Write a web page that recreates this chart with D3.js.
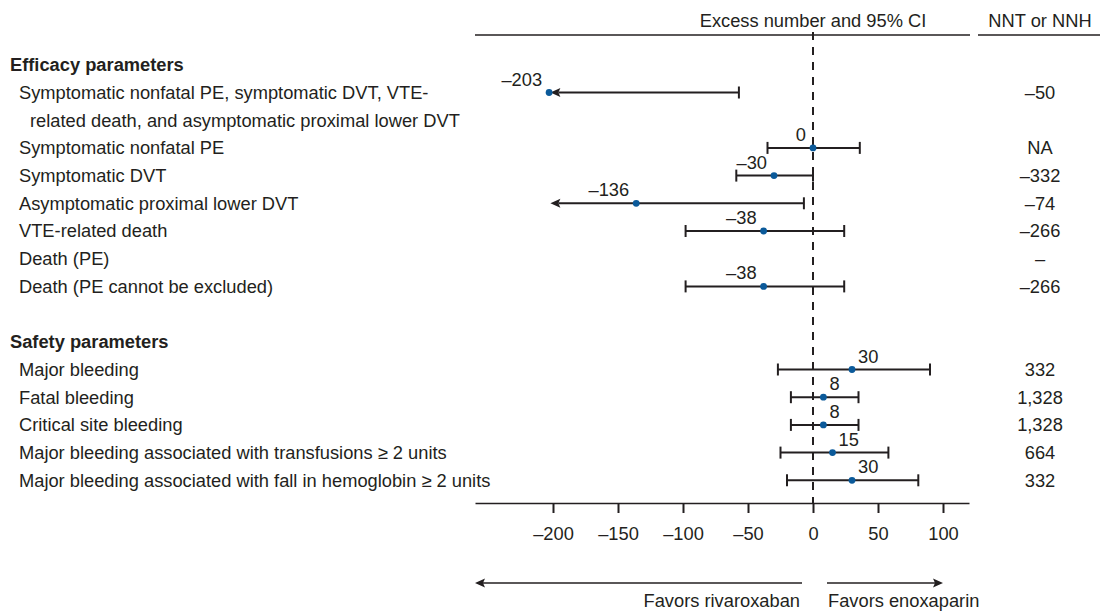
<!DOCTYPE html>
<html>
<head>
<meta charset="utf-8">
<script src="https://cdn.jsdelivr.net/npm/d3@7"></script>
<style>
  html, body { margin: 0; padding: 0; background: #fff; }
  svg { display: block; font-family: "Liberation Sans", Arial, Helvetica, sans-serif; }
  text { fill: #231f20; }
</style>
</head>
<body>
<svg id="chart" width="1100" height="611"></svg>
<script>
// ---------------- data ----------------
const groups = ["Efficacy parameters", "Safety parameters"];
const outcomes = [
  "Symptomatic nonfatal PE, symptomatic DVT, VTE-\nrelated death, and asymptomatic proximal lower DVT",
  "Symptomatic nonfatal PE",
  "Symptomatic DVT",
  "Asymptomatic proximal lower DVT",
  "VTE-related death",
  "Death (PE)",
  "Death (PE cannot be excluded)",
  "Major bleeding",
  "Fatal bleeding",
  "Critical site bleeding",
  "Major bleeding associated with transfusions \u2265 2 units",
  "Major bleeding associated with fall in hemoglobin \u2265 2 units"
];
const outcomeGroup = [0, 0, 0, 0, 0, 0, 0, 1, 1, 1, 1, 1];
const estimates = [-203, 0, -30, -136, -38, null, -38, 30, 8, 8, 15, 30];
// null lower bound = interval extends beyond the left edge of the scale (drawn as an arrow)
const lowerCI = [null, -35, -59, null, -98, null, -98, -27, -17, -17, -25, -20];
const upperCI = [-57, 36, 0, -7, 24, null, 24, 90, 35, 35, 58, 81];
const nnt = ["\u201350", "NA", "\u2013332", "\u201374", "\u2013266", "\u2013", "\u2013266", "332", "1,328", "1,328", "664", "332"];
const xTicks = [-200, -150, -100, -50, 0, 50, 100];
const xDomain = [-260, 120];
const arrowLimit = -202;

// ---------------- layout ----------------
const svg = d3.select("#chart");
const ink = "#231f20";
const dotColor = "#0b5a9a";
const fs = 18.3;

const x = d3.scaleLinear().domain(xDomain).range([475, 969]);

const slotY0 = 64.8, slotH = 27.7;
const yOf = k => slotY0 + k * slotH;

// build rows (headers + outcomes) with slot indices
const rows = [];
let slot = 0;
groups.forEach((g, gi) => {
  if (gi > 0) slot += 1; // blank line between groups
  rows.push({ type: "header", label: g, slot: slot });
  slot += 1;
  outcomes.forEach((o, i) => {
    if (outcomeGroup[i] !== gi) return;
    const lines = o.split("\n");
    rows.push({ type: "item", lines, slot, i });
    slot += lines.length;
  });
});

const dash = x(0);

// header
svg.append("text").attr("x", dash).attr("y", 27).attr("text-anchor", "middle")
  .attr("font-size", fs).text("Excess number and 95% CI");
svg.append("text").attr("x", 1040).attr("y", 27).attr("text-anchor", "middle")
  .attr("font-size", fs).text("NNT or NNH");
svg.append("line").attr("x1", 475).attr("x2", 970).attr("y1", 35).attr("y2", 35)
  .attr("stroke", ink).attr("stroke-width", 1.6);
svg.append("line").attr("x1", 978).attr("x2", 1100).attr("y1", 35).attr("y2", 35)
  .attr("stroke", ink).attr("stroke-width", 1.6);

// dashed zero line
svg.append("line").attr("x1", dash).attr("x2", dash).attr("y1", 32).attr("y2", 503)
  .attr("stroke", ink).attr("stroke-width", 2).attr("stroke-dasharray", "8,7");

// labels
rows.forEach(r => {
  if (r.type === "header") {
    svg.append("text").attr("x", 10).attr("y", yOf(r.slot) + 6.4)
      .attr("font-size", fs).attr("font-weight", "bold").text(r.label);
  } else {
    r.lines.forEach((ln, li) => {
      svg.append("text").attr("x", li === 0 ? 19 : 30).attr("y", yOf(r.slot + li) + 6.4)
        .attr("font-size", fs).text(ln);
    });
  }
});

// intervals
const fmt = v => (v < 0 ? "\u2013" + Math.abs(v) : String(v));
const capH = 6;
rows.filter(r => r.type === "item").forEach(r => {
  const i = r.i;
  const y = yOf(r.slot);
  // NNT
  svg.append("text").attr("x", 1040).attr("y", y + 6.4).attr("text-anchor", "middle")
    .attr("font-size", fs).text(nnt[i]);
  if (estimates[i] === null) return;
  const lo = lowerCI[i], hi = upperCI[i];
  const xl = lo === null ? x(arrowLimit) : x(lo);
  const xh = x(hi);
  const seg = svg.append("line").attr("x1", xh).attr("x2", xl).attr("y1", y).attr("y2", y)
    .attr("stroke", ink).attr("stroke-width", 2);
  if (lo === null) {
    seg.attr("x2", xl + 8);
    svg.append("path")
      .attr("d", `M${xl},${y} L${xl + 10},${y - 4.5} L${xl + 8},${y} L${xl + 10},${y + 4.5} Z`)
      .attr("fill", ink);
  } else {
    svg.append("line").attr("x1", xl).attr("x2", xl).attr("y1", y - capH).attr("y2", y + capH)
      .attr("stroke", ink).attr("stroke-width", 2);
  }
  svg.append("line").attr("x1", xh).attr("x2", xh).attr("y1", y - capH).attr("y2", y + capH)
    .attr("stroke", ink).attr("stroke-width", 2);
  const px = x(estimates[i]);
  svg.append("circle").attr("cx", px).attr("cy", y).attr("r", 3.4).attr("fill", dotColor);
  const pos = estimates[i] > 0;
  svg.append("text").attr("x", pos ? px + 6 : px - 7).attr("y", y - 7)
    .attr("text-anchor", pos ? "start" : "end").attr("font-size", fs).text(fmt(estimates[i]));
});

// axis
const axis = d3.axisBottom(x).tickValues(xTicks).tickSize(10).tickSizeOuter(0)
  .tickPadding(14).tickFormat(fmt);
const ag = svg.append("g").attr("transform", "translate(0,503)").call(axis);
ag.select(".domain").attr("stroke", ink).attr("stroke-width", 1.6);
ag.selectAll(".tick line").attr("stroke", ink).attr("stroke-width", 2);
ag.selectAll(".tick text").attr("font-size", fs).attr("font-family", "Liberation Sans, Arial, sans-serif")
  .attr("fill", ink);

// favors arrows
const ay = 583;
function arrow(x1, x2) {
  // x2 is the tip
  const dir = x2 > x1 ? 1 : -1;
  svg.append("line").attr("x1", x1).attr("x2", x2 - dir * 6).attr("y1", ay).attr("y2", ay)
    .attr("stroke", ink).attr("stroke-width", 1.6);
  svg.append("path")
    .attr("d", `M${x2},${ay} L${x2 - dir * 10},${ay - 4.5} L${x2 - dir * 8},${ay} L${x2 - dir * 10},${ay + 4.5} Z`)
    .attr("fill", ink);
}
arrow(802, 475);
arrow(827, 943);
svg.append("text").attr("x", 800).attr("y", 607).attr("text-anchor", "end")
  .attr("font-size", fs).text("Favors rivaroxaban");
svg.append("text").attr("x", 828).attr("y", 607).attr("text-anchor", "start")
  .attr("font-size", fs).text("Favors enoxaparin");
</script>
</body>
</html>
